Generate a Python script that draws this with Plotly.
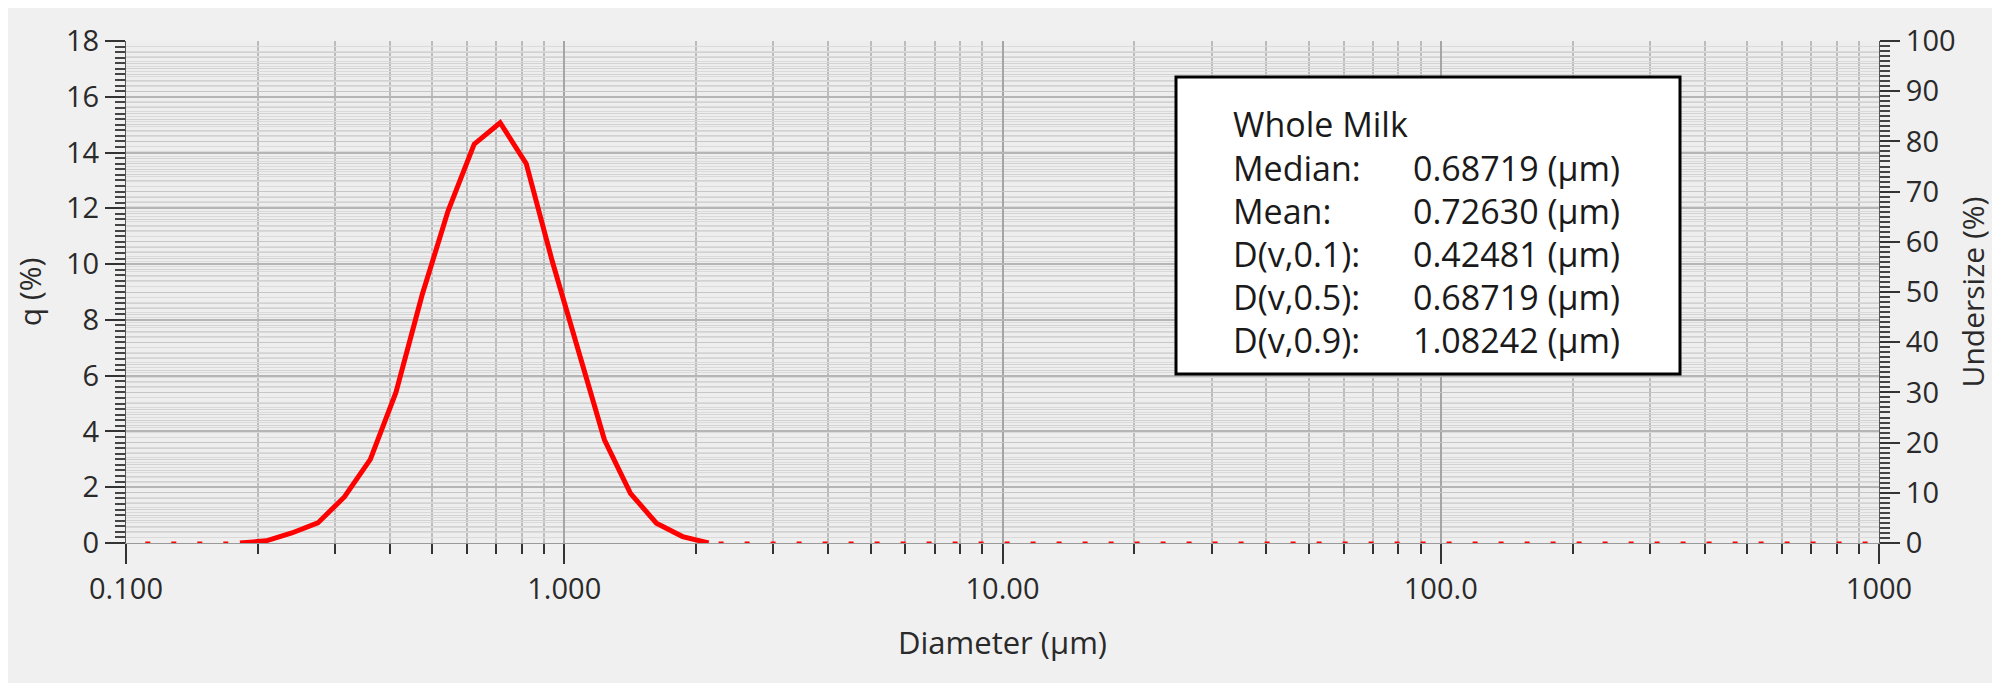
import plotly.graph_objects as go

# ---- data ----
diameter_um = [0.182, 0.209, 0.239, 0.274, 0.315, 0.361, 0.413, 0.474, 0.543, 0.623,
               0.714, 0.819, 0.939, 1.077, 1.235, 1.416, 1.623, 1.862, 2.135]
q_percent = [0.0, 0.08, 0.36, 0.72, 1.65, 3.0, 5.4, 8.9, 11.9, 14.3,
             15.07, 13.6, 10.1, 6.9, 3.7, 1.78, 0.71, 0.23, 0.0]
zero_low_x = [0.105, 0.182]
zero_high_x = [2.135, 1000]
zero_y = [0, 0]

x_tickvals = [0.1, 1, 10, 100, 1000]
x_ticktext = ["0.100", "1.000", "10.00", "100.0", "1000"]

sample_name = "Whole Milk"
stat_labels = ["Median:", "Mean:", "D(v,0.1):", "D(v,0.5):", "D(v,0.9):"]
stat_values = ["0.68719 (µm)", "0.72630 (µm)", "0.42481 (µm)", "0.68719 (µm)", "1.08242 (µm)"]

# ---- layout constants (pixels; page has an 8px body margin) ----
OFF = 8
W, H = 2000 - OFF, 683 - OFF
L, T = 126 - OFF, 41 - OFF
R = W - (1879 - OFF)
B = H - (543 - OFF)
PW, PH = W - L - R, H - T - B
FONT = "Open Sans"
TXT = "#2a2a2a"
RED = "#ff0000"


def px_x(px):
    return (px - OFF - L) / PW


def px_y(py):
    return (H - B - (py - OFF)) / PH


minor_x = [m * 10 ** e for e in range(-1, 3) for m in range(2, 10)]

fig = go.Figure()
for zx in (zero_low_x, zero_high_x):
    fig.add_trace(go.Scatter(x=zx, y=zero_y, mode="lines",
                             line=dict(color=RED, width=3, dash="0px,10px,5px,11px"),
                             hoverinfo="skip", showlegend=False))
fig.add_trace(go.Scatter(x=diameter_um, y=q_percent, mode="lines",
                         line=dict(color=RED, width=5), showlegend=False))
# invisible trace to activate secondary axis
fig.add_trace(go.Scatter(x=[1], y=[0], yaxis="y2", mode="markers",
                         marker=dict(opacity=0), hoverinfo="skip", showlegend=False))

fig.update_layout(
    width=W, height=H,
    margin=dict(l=L, r=R, t=T, b=B),
    paper_bgcolor="#f0f0f0",
    plot_bgcolor="#eeeeee",
    font=dict(family=FONT, size=29, color=TXT),
    xaxis=dict(
        type="log", range=[-1, 3],
        tickmode="array", tickvals=x_tickvals, ticktext=x_ticktext,
        ticks="outside", ticklen=20, tickwidth=2, tickcolor="#333",
        showgrid=True, gridcolor="#a5a5a5", gridwidth=1.5,
        showline=True, linecolor="#9a9a9a", linewidth=1,
        minor=dict(tickmode="array", tickvals=minor_x, ticks="outside", ticklen=10,
                   tickwidth=2, tickcolor="#333", showgrid=True,
                   gridcolor="#bcbcbc", gridwidth=1.5),
        title=dict(text="Diameter (µm)", standoff=26, font=dict(size=31)),
        zeroline=False,
    ),
    yaxis=dict(
        range=[0, 18], dtick=2, tick0=0,
        ticks="outside", ticklen=20, tickwidth=2, tickcolor="#333",
        showgrid=True, gridcolor="#b5b5b5", gridwidth=1.5,
        showline=True, linecolor="#555", linewidth=1,
        minor=dict(dtick=0.2, ticks="outside", ticklen=10, tickwidth=1.5,
                   tickcolor="#444", showgrid=True, gridcolor="#d2d2d2", gridwidth=1),
        title=dict(text="q (%)", standoff=15, font=dict(size=30)),
        zeroline=False,
    ),
    yaxis2=dict(
        range=[0, 100], dtick=10, tick0=0, overlaying="y", side="right",
        ticks="outside", ticklen=20, tickwidth=2, tickcolor="#333",
        showgrid=True, gridcolor="#c6c6c6", gridwidth=1,
        showline=True, linecolor="#555", linewidth=1,
        minor=dict(dtick=1, ticks="outside", ticklen=10, tickwidth=1.5,
                   tickcolor="#444", showgrid=True, gridcolor="#dadada", gridwidth=1),
        title=dict(text="Undersize (%)", standoff=8, font=dict(size=30)),
        zeroline=False,
    ),
)

# statistics box
fig.add_shape(type="rect", xref="paper", yref="paper",
              x0=px_x(1176), x1=px_x(1680), y0=px_y(374), y1=px_y(77),
              fillcolor="white", line=dict(color="black", width=3), layer="above")

line_y = [124, 168, 211, 254, 297, 340]
box_font = dict(size=34, color="#1a1a1a")
fig.add_annotation(xref="paper", yref="paper", x=px_x(1231), y=px_y(line_y[0]),
                   text=sample_name, showarrow=False, xanchor="left", yanchor="middle",
                   font=box_font)
for i, (lab, val) in enumerate(zip(stat_labels, stat_values)):
    yy = px_y(line_y[i + 1])
    fig.add_annotation(xref="paper", yref="paper", x=px_x(1231), y=yy, text=lab,
                       showarrow=False, xanchor="left", yanchor="middle", font=box_font)
    fig.add_annotation(xref="paper", yref="paper", x=px_x(1411), y=yy, text=val,
                       showarrow=False, xanchor="left", yanchor="middle", font=box_font)

fig.write_html("out.html")
